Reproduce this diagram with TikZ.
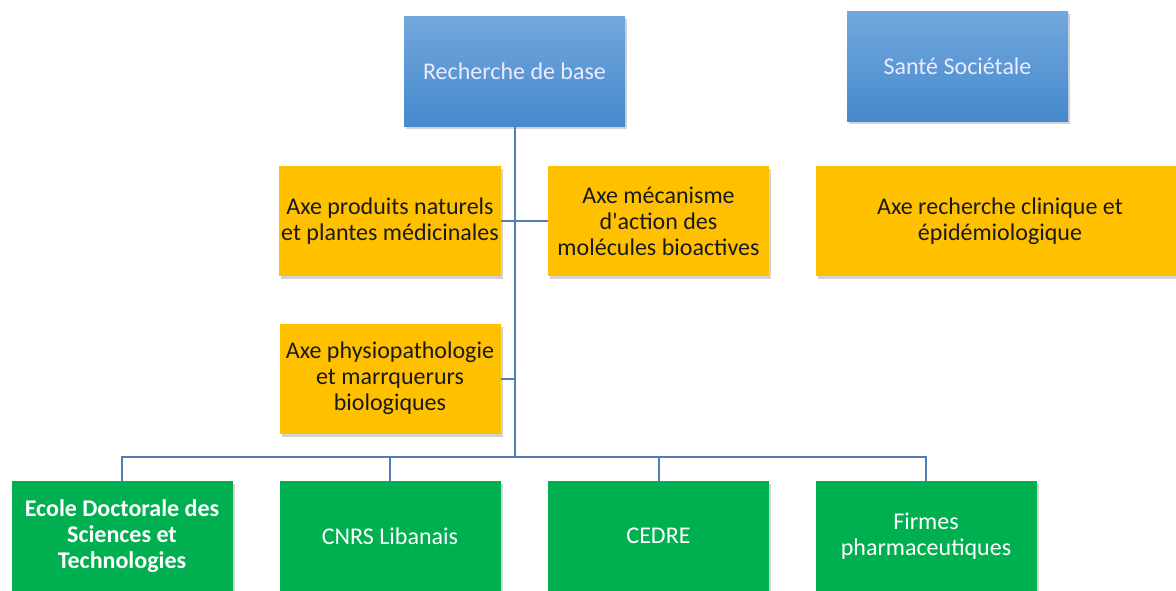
\documentclass[tikz,border=0pt]{standalone}
\usepackage{fontspec}
\setmainfont{Carlito}
\usetikzlibrary{shadows,calc}
\definecolor{bluetop}{HTML}{72A8DD}
\definecolor{bluebot}{HTML}{4689CD}
\definecolor{axeyellow}{HTML}{FFC000}
\definecolor{orggreen}{HTML}{00B050}
\definecolor{linkblue}{HTML}{4F7FB4}
\definecolor{darktext}{HTML}{1A1A1A}
\tikzset{
  boxbase/.style={draw=none, minimum height=110pt, align=center, inner sep=2pt,
    font=\fontsize{24}{26}\selectfont,
    drop shadow={opacity=0.35, shadow xshift=2pt, shadow yshift=-3pt}},
  bluebox/.style={boxbase, minimum width=221pt, top color=bluetop, bottom color=bluebot, text=white!92!blue},
  axebox/.style={boxbase, minimum width=221pt, fill=axeyellow, text=darktext},
  orgbox/.style={boxbase, minimum width=221pt, fill=orggreen, text=white},
  link/.style={draw=linkblue, line width=2pt}
}
\begin{document}
\begin{tikzpicture}[x=1pt,y=-1pt]
\useasboundingbox (0,0) rectangle (1176,590);
\node[bluebox] (rb) at (514.5,71) {Recherche de base};
\node[bluebox] (ss) at (957.5,66) {Santé Sociétale};
\node[axebox] (a1) at (390,221) {Axe produits naturels\\et plantes médicinales};
\node[axebox] (a2) at (658.5,221) {Axe mécanisme\\d\textquotesingle action des\\molécules bioactives};
\node[axebox, minimum width=368pt] (a3) at (1000,221) {Axe recherche clinique et\\épidémiologique};
\node[axebox] (a4) at (390,378.5) {Axe physiopathologie\\et marrquerurs\\biologiques};
\node[orgbox, font=\fontsize{24}{26}\selectfont\bfseries] (g1) at (122,536) {Ecole Doctorale des\\Sciences et\\Technologies};
\node[orgbox] (g2) at (390,536) {CNRS Libanais};
\node[orgbox] (g3) at (658.5,536) {CEDRE};
\node[orgbox] (g4) at (926,536) {Firmes\\pharmaceutiques};
\coordinate (bus) at (514.5,456.5);
\draw[link] (rb.south) -- (bus);
\draw[link] (a1.east) -- (a2.west);
\draw[link] (a4.east) -- (a4.east -| bus);
\draw[link] (g1.north) -- (g1.north |- bus) -- (g4.north |- bus) -- (g4.north);
\draw[link] (g2.north) -- (g2.north |- bus);
\draw[link] (g3.north) -- (g3.north |- bus);
\end{tikzpicture}
\end{document}
